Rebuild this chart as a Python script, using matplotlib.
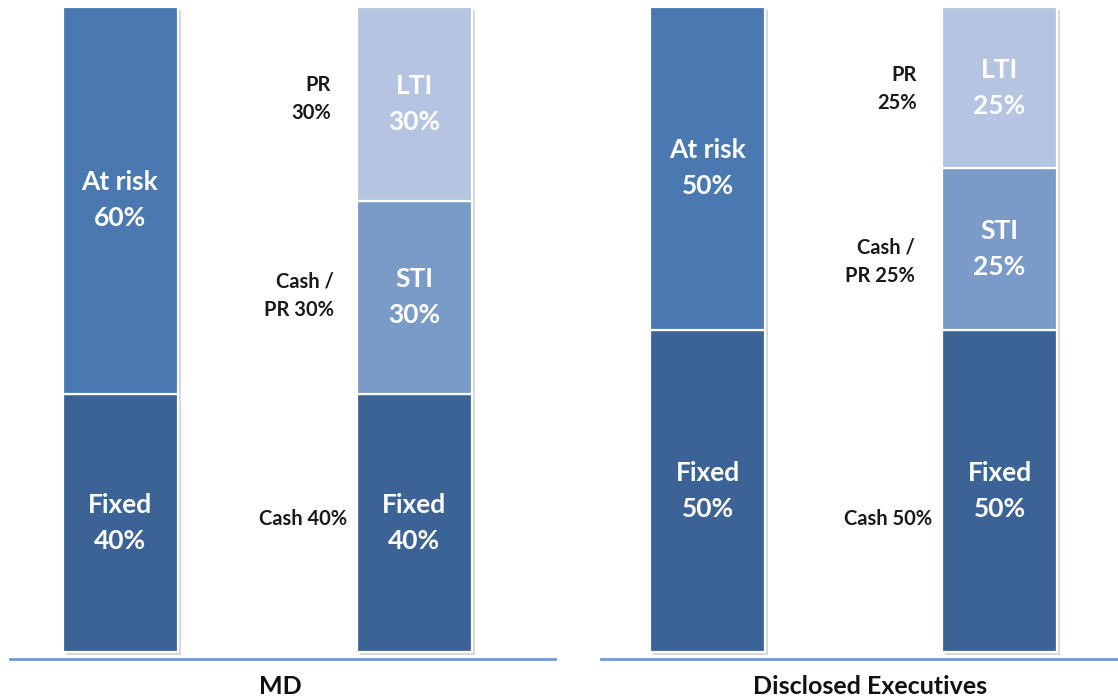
import matplotlib
matplotlib.use("Agg")
import matplotlib.pyplot as plt
import matplotlib.patheffects as pe

# ---------------- data ----------------
panels = ["MD", "Disclosed Executives"]

# left bar of each panel: Fixed / At risk
fixed_total = [40, 50]
at_risk = [60, 50]

# right bar of each panel: Fixed / STI / LTI
fixed_split = [40, 50]
sti = [30, 25]
lti = [30, 25]

# black side labels (LTI, STI, Fixed)
side_labels = [
    ["PR\n30%", "Cash /\nPR 30%", "Cash 40%"],
    ["PR\n25%", "Cash /\nPR 25%", "Cash 50%"],
]

# ---------------- style ----------------
C_FIXED = "#3C6395"
C_RISK = "#4A78B0"
C_STI = "#7A9BC8"
C_LTI = "#B5C4E0"
SPINE = "#6E9AD2"
FONT = "Lato"

W, H, DPI = 1118, 699, 100
fig = plt.figure(figsize=(W / DPI, H / DPI), dpi=DPI)

# axes placements in pixels (left, right) and bar centres
ax_px = [(10, 555), (601, 1118)]
bar_px = [(120, 414), (707.5, 999.5)]
bar_w_px = 115
y_bot_px, y_bar0_px, y_top_px = 659, 652, 0
px_per_pct = (652 - 7) / 100.0
title_x = [0.497, 0.520]
title_y_px = 687

# side-label vertical positions (data units) and right edges (px)
label_y = [[85.7, 55.2, 20.6], [87.3, 60.5, 20.6]]
label_x_px = [[331, 334, 347], [917, 915, 932]]

shadow = [pe.SimplePatchShadow(offset=(2.5, -2.5), alpha=0.16, shadow_rgbFace="black"), pe.Normal()]

for i, name in enumerate(panels):
    l, r = ax_px[i]
    ax = fig.add_axes([l / W, (H - y_bot_px) / H, (r - l) / W, (y_bot_px - y_top_px) / H])
    sep = bar_px[i][1] - bar_px[i][0]
    ax.set_xlim(-(bar_px[i][0] - l) / sep, (r - bar_px[i][0]) / sep)
    ax.set_ylim(-(y_bot_px - y_bar0_px) / px_per_pct, (y_bar0_px - y_top_px) / px_per_pct)
    bw = bar_w_px / sep

    # background stacks carrying the soft shadow
    totals = [fixed_total[i] + at_risk[i], fixed_split[i] + sti[i] + lti[i]]
    bg = ax.bar([0, 1], totals, width=bw, color="white", edgecolor="none", zorder=1)
    for b in bg:
        b.set_path_effects(shadow)

    kw = dict(width=bw, edgecolor="white", linewidth=1.6, zorder=2)
    ax.bar(0, fixed_total[i], color=C_FIXED, **kw)
    ax.bar(0, at_risk[i], bottom=fixed_total[i], color=C_RISK, **kw)
    ax.bar(1, fixed_split[i], color=C_FIXED, **kw)
    ax.bar(1, sti[i], bottom=fixed_split[i], color=C_STI, **kw)
    ax.bar(1, lti[i], bottom=fixed_split[i] + sti[i], color=C_LTI, **kw)

    tkw = dict(ha="center", va="center", color="white", fontsize=19,
               fontweight="bold", family=FONT, linespacing=1.6, zorder=3)
    ax.text(0, fixed_total[i] + at_risk[i] / 2, f"At risk\n{at_risk[i]}%", **tkw)
    ax.text(0, fixed_total[i] / 2, f"Fixed\n{fixed_total[i]}%", **tkw)
    ax.text(1, fixed_split[i] / 2, f"Fixed\n{fixed_split[i]}%", **tkw)
    ax.text(1, fixed_split[i] + sti[i] / 2, f"STI\n{sti[i]}%", **tkw)
    ax.text(1, fixed_split[i] + sti[i] + lti[i] / 2, f"LTI\n{lti[i]}%", **tkw)

    for txt, yv, xp in zip(side_labels[i], label_y[i], label_x_px[i]):
        xd = (xp - bar_px[i][0]) / sep
        ax.text(xd, yv, txt, ha="right", va="center", color="#1a1a1a",
                fontsize=14.5, fontweight="bold", family=FONT, linespacing=1.5)

    for s in ["top", "left", "right"]:
        ax.spines[s].set_visible(False)
    ax.spines["bottom"].set_color(SPINE)
    ax.spines["bottom"].set_linewidth(2)
    ax.set_xticks([])
    ax.set_yticks([])
    ax.patch.set_alpha(0)
    ax.set_xlabel(name, fontsize=18, fontweight="bold", family=FONT,
                  color="#111111", va="center")
    ax.xaxis.set_label_coords(title_x[i], -(title_y_px - y_bot_px) / (y_bot_px - y_top_px))

fig.savefig("out.png", dpi=DPI, facecolor="white")
